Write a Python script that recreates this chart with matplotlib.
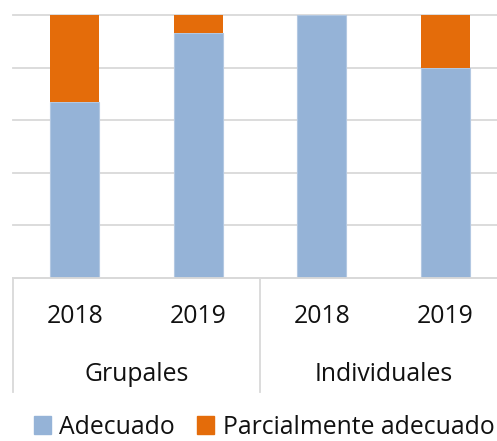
import matplotlib.pyplot as plt
from matplotlib.patches import Patch

# Datos (porcentajes)
years = ["2018", "2019", "2018", "2019"]
groups = ["Grupales", "Individuales"]
adecuado = [66.7, 93.3, 100.0, 80.0]
parcial = [33.3, 6.7, 0.0, 20.0]

blue = "#95B3D7"
orange = "#E46C0A"
grid = "#D9D9D9"

plt.rcParams['font.family'] = ['Open Sans', 'DejaVu Sans']
fs = 17.8

fig = plt.figure(figsize=(4.97, 4.41), dpi=100)
ax = fig.add_axes([13 / 497, 1 - 277.5 / 441, 494 / 497, 262.5 / 441])

x = list(range(len(years)))
ax.bar(x, adecuado, width=0.4, color=blue, edgecolor="#B3C8E2", linewidth=0.8, zorder=2)
# sin borde para evitar una linea en los segmentos de altura cero
ax.bar(x, parcial, width=0.4, bottom=adecuado, color=orange, linewidth=0, zorder=2)

ax.set_xlim(-0.5, 3.5)
ax.set_ylim(0, 100)
ax.set_yticks([0, 20, 40, 60, 80, 100])
ax.yaxis.grid(True, color=grid, linewidth=1.3)
for gl in ax.get_ygridlines():
    gl.set_clip_on(False)
ax.set_axisbelow(True)
ax.tick_params(left=False, labelleft=False, bottom=False, labelbottom=False)
for s in ["top", "right", "left"]:
    ax.spines[s].set_visible(False)
ax.spines["bottom"].set_color(grid)
ax.spines["bottom"].set_linewidth(1.3)

# Eje de categorias en dos niveles
tr = ax.get_xaxis_transform()
for i, y in enumerate(years):
    ax.text(i, -0.149, y, transform=tr, ha="center", va="center", fontsize=fs, color="#111111")
for j, g in enumerate(groups):
    ax.text(2 * j + 0.5, -0.371, g, transform=tr, ha="center", va="center", fontsize=fs,
            color="#111111")
for xv in [-0.5, 1.5, 3.5]:
    ax.plot([xv, xv], [0, -0.435], transform=tr, color=grid, linewidth=1.3, clip_on=False)

# Leyenda
handles = [Patch(facecolor=blue, edgecolor=blue), Patch(facecolor=orange, edgecolor=orange)]
leg = fig.legend(handles, ["Adecuado", "Parcialmente adecuado"], loc="center",
                 bbox_to_anchor=(264 / 497, 1 - 427 / 441), ncol=2, frameon=False,
                 fontsize=fs, handlelength=0.7, handleheight=0.7, handletextpad=0.33,
                 columnspacing=0.9, borderpad=0, borderaxespad=0)
for t in leg.get_texts():
    t.set_color("#111111")

fig.savefig("out.png", dpi=100)
